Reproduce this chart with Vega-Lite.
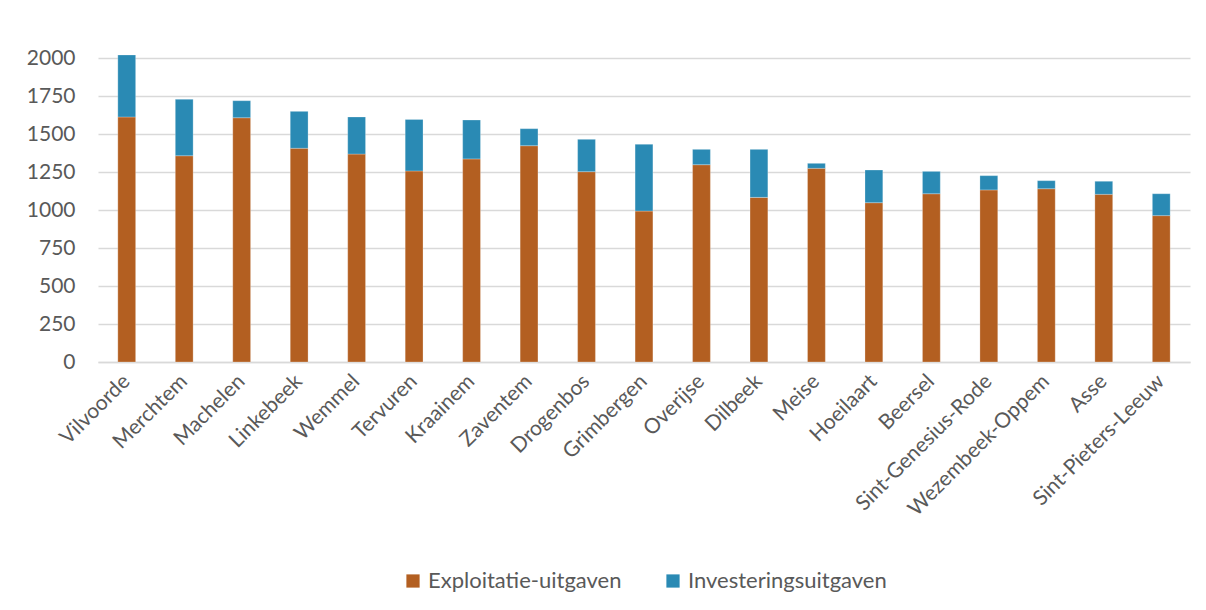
{
  "$schema": "https://vega.github.io/schema/vega-lite/v6.json",
  "width": 1092,
  "height": 304,
  "autosize": {"type": "none"},
  "padding": {"left": 98, "top": 58, "right": 16, "bottom": 248},
  "background": "white",
  "data": {
    "values": [
      {"gemeente": "Vilvoorde", "soort": "Exploitatie-uitgaven", "bedrag": 1612, "volgorde": 1},
      {"gemeente": "Vilvoorde", "soort": "Investeringsuitgaven", "bedrag": 408, "volgorde": 2},
      {"gemeente": "Merchtem", "soort": "Exploitatie-uitgaven", "bedrag": 1357, "volgorde": 1},
      {"gemeente": "Merchtem", "soort": "Investeringsuitgaven", "bedrag": 371, "volgorde": 2},
      {"gemeente": "Machelen", "soort": "Exploitatie-uitgaven", "bedrag": 1607, "volgorde": 1},
      {"gemeente": "Machelen", "soort": "Investeringsuitgaven", "bedrag": 112, "volgorde": 2},
      {"gemeente": "Linkebeek", "soort": "Exploitatie-uitgaven", "bedrag": 1406, "volgorde": 1},
      {"gemeente": "Linkebeek", "soort": "Investeringsuitgaven", "bedrag": 243, "volgorde": 2},
      {"gemeente": "Wemmel", "soort": "Exploitatie-uitgaven", "bedrag": 1368, "volgorde": 1},
      {"gemeente": "Wemmel", "soort": "Investeringsuitgaven", "bedrag": 244, "volgorde": 2},
      {"gemeente": "Tervuren", "soort": "Exploitatie-uitgaven", "bedrag": 1257, "volgorde": 1},
      {"gemeente": "Tervuren", "soort": "Investeringsuitgaven", "bedrag": 339, "volgorde": 2},
      {"gemeente": "Kraainem", "soort": "Exploitatie-uitgaven", "bedrag": 1336, "volgorde": 1},
      {"gemeente": "Kraainem", "soort": "Investeringsuitgaven", "bedrag": 256, "volgorde": 2},
      {"gemeente": "Zaventem", "soort": "Exploitatie-uitgaven", "bedrag": 1423, "volgorde": 1},
      {"gemeente": "Zaventem", "soort": "Investeringsuitgaven", "bedrag": 112, "volgorde": 2},
      {"gemeente": "Drogenbos", "soort": "Exploitatie-uitgaven", "bedrag": 1252, "volgorde": 1},
      {"gemeente": "Drogenbos", "soort": "Investeringsuitgaven", "bedrag": 213, "volgorde": 2},
      {"gemeente": "Grimbergen", "soort": "Exploitatie-uitgaven", "bedrag": 993, "volgorde": 1},
      {"gemeente": "Grimbergen", "soort": "Investeringsuitgaven", "bedrag": 439, "volgorde": 2},
      {"gemeente": "Overijse", "soort": "Exploitatie-uitgaven", "bedrag": 1298, "volgorde": 1},
      {"gemeente": "Overijse", "soort": "Investeringsuitgaven", "bedrag": 101, "volgorde": 2},
      {"gemeente": "Dilbeek", "soort": "Exploitatie-uitgaven", "bedrag": 1083, "volgorde": 1},
      {"gemeente": "Dilbeek", "soort": "Investeringsuitgaven", "bedrag": 316, "volgorde": 2},
      {"gemeente": "Meise", "soort": "Exploitatie-uitgaven", "bedrag": 1274, "volgorde": 1},
      {"gemeente": "Meise", "soort": "Investeringsuitgaven", "bedrag": 33, "volgorde": 2},
      {"gemeente": "Hoeilaart", "soort": "Exploitatie-uitgaven", "bedrag": 1048, "volgorde": 1},
      {"gemeente": "Hoeilaart", "soort": "Investeringsuitgaven", "bedrag": 215, "volgorde": 2},
      {"gemeente": "Beersel", "soort": "Exploitatie-uitgaven", "bedrag": 1107, "volgorde": 1},
      {"gemeente": "Beersel", "soort": "Investeringsuitgaven", "bedrag": 147, "volgorde": 2},
      {"gemeente": "Sint-Genesius-Rode", "soort": "Exploitatie-uitgaven", "bedrag": 1132, "volgorde": 1},
      {"gemeente": "Sint-Genesius-Rode", "soort": "Investeringsuitgaven", "bedrag": 94, "volgorde": 2},
      {"gemeente": "Wezembeek-Oppem", "soort": "Exploitatie-uitgaven", "bedrag": 1140, "volgorde": 1},
      {"gemeente": "Wezembeek-Oppem", "soort": "Investeringsuitgaven", "bedrag": 53, "volgorde": 2},
      {"gemeente": "Asse", "soort": "Exploitatie-uitgaven", "bedrag": 1103, "volgorde": 1},
      {"gemeente": "Asse", "soort": "Investeringsuitgaven", "bedrag": 86, "volgorde": 2},
      {"gemeente": "Sint-Pieters-Leeuw", "soort": "Exploitatie-uitgaven", "bedrag": 963, "volgorde": 1},
      {"gemeente": "Sint-Pieters-Leeuw", "soort": "Investeringsuitgaven", "bedrag": 144, "volgorde": 2}
    ]
  },
  "mark": {"type": "bar", "stroke": "white", "strokeWidth": 0.5, "strokeOpacity": 0.5},
  "encoding": {
    "x": {
      "field": "gemeente",
      "type": "nominal",
      "sort": null,
      "title": null,
      "scale": {"paddingInner": 0.69, "paddingOuter": 0.345},
      "axis": {
        "labelAngle": -45,
        "labelAlign": "right",
        "labelBaseline": "middle",
        "labelPadding": 16,
        "labelLimit": 400,
        "ticks": false,
        "domain": true,
        "domainColor": "#d9d9d9",
        "domainWidth": 1.5,
        "labelFontSize": 21,
        "labelColor": "#595959",
        "labelFont": "Lato"
      }
    },
    "y": {
      "field": "bedrag",
      "type": "quantitative",
      "stack": "zero",
      "title": null,
      "scale": {"domain": [0, 2000], "nice": false},
      "axis": {
        "values": [0, 250, 500, 750, 1000, 1250, 1500, 1750, 2000],
        "format": "d",
        "ticks": false,
        "domain": false,
        "grid": true,
        "gridColor": "#d9d9d9",
        "gridWidth": 1.5,
        "labelPadding": 23,
        "labelFontSize": 21,
        "labelColor": "#595959",
        "labelFont": "Lato"
      }
    },
    "color": {
      "field": "soort",
      "type": "nominal",
      "title": null,
      "scale": {
        "domain": ["Exploitatie-uitgaven", "Investeringsuitgaven"],
        "range": ["#b35f21", "#2a8ab4"]
      },
      "legend": {
        "orient": "bottom",
        "direction": "horizontal",
        "symbolType": "square",
        "symbolSize": 175,
        "symbolStrokeWidth": 0,
        "labelFontSize": 22,
        "labelLimit": 400,
        "labelColor": "#595959",
        "labelFont": "Lato",
        "columnPadding": 40,
        "offset": 50
      }
    },
    "order": {"field": "volgorde", "type": "quantitative"}
  },
  "config": {
    "view": {"stroke": null},
    "legend": {"layout": {"bottom": {"anchor": "middle"}}}
  }
}
